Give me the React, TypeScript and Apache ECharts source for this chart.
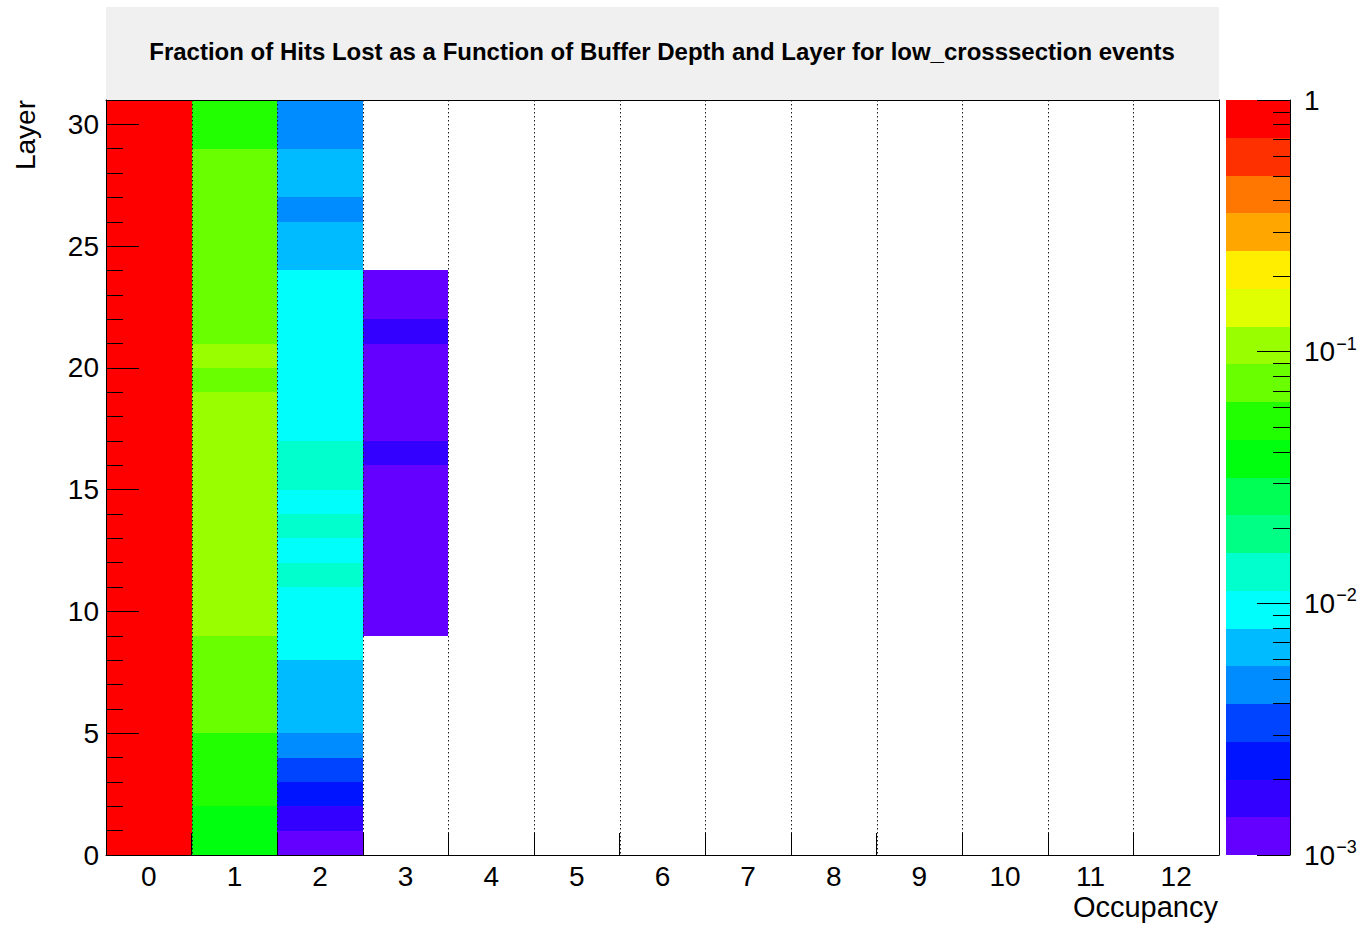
import React, { useEffect, useRef } from "react";
import * as echarts from "echarts";

// Bin labels
const occupancyLabels = ["0", "1", "2", "3", "4", "5", "6", "7", "8", "9", "10", "11", "12"];
const layerLabels = Array.from({ length: 31 }, (_, i) => String(i));

// Fraction of hits lost per layer (index = layer 0..30), one array per buffer occupancy
const lostOcc0 = [
  1, 1, 1, 1, 1, 1, 1, 1, 1, 1, 1, 1, 1, 1, 1, 1,
  1, 1, 1, 1, 1, 1, 1, 1, 1, 1, 1, 1, 1, 1, 1,
];
const lostOcc1 = [
  0.038, 0.04, 0.055, 0.057, 0.06, 0.072, 0.075, 0.078, 0.08, 0.095, 0.1,
  0.102, 0.105, 0.108, 0.11, 0.106, 0.104, 0.101, 0.098, 0.085, 0.094,
  0.082, 0.08, 0.078, 0.076, 0.074, 0.072, 0.07, 0.068, 0.058, 0.055,
];
const lostOcc2 = [
  0.0012, 0.0017, 0.0024, 0.0034, 0.0048, 0.0065, 0.007, 0.0074, 0.0085,
  0.009, 0.0095, 0.0118, 0.0105, 0.0116, 0.0108, 0.0121, 0.0117, 0.0104,
  0.0098, 0.0094, 0.009, 0.0093, 0.0088, 0.0085, 0.0072, 0.0068, 0.0052,
  0.0064, 0.006, 0.005, 0.0047,
];
const lostOcc3 = [
  null, null, null, null, null, null, null, null, null,
  0.00125, 0.0013, 0.0012, 0.00128, 0.00132, 0.00126, 0.0013, 0.0016,
  0.0013, 0.00128, 0.00125, 0.0013, 0.0016, 0.0012, 0.00115,
  null, null, null, null, null, null, null,
];
const lostByOccupancy: (number | null)[][] = [lostOcc0, lostOcc1, lostOcc2, lostOcc3];

// Colour scale: log z range split into equal contours
const zMin = 1e-3;
const zMax = 1;
const nContours = 20;
const paletteColors = [
  "#6300ff", "#3300ff", "#0014ff", "#0044ff", "#008bff",
  "#00bbff", "#00fffc", "#00ffcc", "#00ff85", "#00ff55",
  "#00ff0e", "#22ff00", "#69ff00", "#99ff00", "#e0ff00",
  "#ffee00", "#ffa700", "#ff7700", "#ff3000", "#ff0000",
];
const logMin = Math.log10(zMin);
const logMax = Math.log10(zMax);
const contourLevels = Array.from(
  { length: nContours + 1 },
  (_, j) => Math.pow(10, logMin + (j * (logMax - logMin)) / nContours)
);
const minorTickValues: number[] = [];
for (let e = -3; e < 0; e++) {
  for (let m = 2; m <= 9; m++) minorTickValues.push(m * Math.pow(10, e));
}

const TITLE =
  "Fraction of Hits Lost as a Function of Buffer Depth and Layer for low_crosssection events";
const FONT = '"Liberation Sans", Arial, Helvetica, sans-serif';

function colorFor(v: number): string {
  for (let j = 0; j < nContours; j++) {
    if (v < contourLevels[j + 1]) return paletteColors[j];
  }
  return paletteColors[nContours - 1];
}

export default function App() {
  const ref = useRef<HTMLDivElement>(null);

  useEffect(() => {
    if (!ref.current) return;
    const chart = echarts.init(ref.current, undefined, { renderer: "svg" });

    const cellData: [number, number, number][] = [];
    lostByOccupancy.forEach((col, x) => {
      col.forEach((v, y) => {
        if (v !== null) cellData.push([x, y, v]);
      });
    });

    const bandData = contourLevels.slice(0, -1).map((lo, j) => [0, lo, contourLevels[j + 1]]);
    // interior bin edges of the occupancy axis (right edge of bins 0..11)
    const binEdges = occupancyLabels.slice(0, -1).map((_, i) => [i, 0]);

    const black = { color: "#000", width: 1 };

    chart.setOption({
      animation: false,
      backgroundColor: "#fff",
      textStyle: { fontFamily: FONT },
      grid: [
        { left: 106, top: 100, width: 1113, height: 755, show: false },
        { left: 1226, top: 100, width: 64, height: 755, show: false },
      ],
      xAxis: [
        {
          type: "category",
          gridIndex: 0,
          data: occupancyLabels,
          position: "bottom",
          z: 5,
          axisLine: { show: true, onZero: false, lineStyle: black },
          axisTick: { show: true, inside: true, length: 22, interval: 0, lineStyle: black },
          axisLabel: { interval: 0, fontSize: 28, color: "#000", fontFamily: FONT, margin: 7 },
          splitLine: { show: false },
        },
        {
          type: "category",
          gridIndex: 0,
          data: occupancyLabels,
          position: "top",
          z: 5,
          axisLine: { show: true, onZero: false, lineStyle: black },
          axisTick: { show: false },
          axisLabel: { show: false },
          splitLine: { show: false },
        },
        { type: "value", gridIndex: 1, min: 0, max: 1, show: false },
      ],
      yAxis: [
        {
          type: "category",
          gridIndex: 0,
          data: layerLabels,
          position: "right",
          z: 5,
          axisLine: { show: true, onZero: false, lineStyle: black },
          axisTick: { show: false },
          axisLabel: { show: false },
          splitLine: { show: false },
        },
        {
          type: "value",
          gridIndex: 0,
          min: 0,
          max: 31,
          interval: 1,
          position: "left",
          z: 5,
          axisLine: { show: true, onZero: false, lineStyle: black },
          axisTick: { show: true, inside: true, length: 17, lineStyle: black },
          axisLabel: { show: false },
          splitLine: { show: false },
        },
        {
          type: "value",
          gridIndex: 0,
          min: 0,
          max: 31,
          interval: 5,
          position: "left",
          z: 5,
          axisLine: { show: false, onZero: false },
          axisTick: { show: true, inside: true, length: 33, lineStyle: black },
          axisLabel: {
            fontSize: 28,
            color: "#000",
            fontFamily: FONT,
            margin: 7,
            showMaxLabel: false,
          },
          splitLine: { show: false },
        },
        {
          type: "log",
          gridIndex: 1,
          logBase: 10,
          min: zMin,
          max: zMax,
          position: "right",
          z: 5,
          axisLine: { show: true, onZero: false, lineStyle: black },
          axisTick: { show: true, inside: true, length: 33, lineStyle: black },
          axisLabel: {
            margin: 14,
            color: "#000",
            fontSize: 28,
            fontFamily: FONT,
            formatter: (v: number) => {
              const e = Math.round(Math.log10(v));
              return e === 0 ? "{b|1}" : `{b|10}{s|\u2212${-e}}`;
            },
            rich: {
              b: { fontSize: 28, lineHeight: 34, fontFamily: FONT, color: "#000" },
              s: {
                fontSize: 18,
                fontFamily: FONT,
                color: "#000",
                verticalAlign: "top",
                padding: [0, 0, 0, 1],
              },
            },
          },
          splitLine: { show: false },
        },
      ],
      series: [
        {
          // histogram cells
          type: "custom",
          xAxisIndex: 0,
          yAxisIndex: 0,
          data: cellData,
          encode: { x: 0, y: 1 },
          silent: true,
          z: 1,
          renderItem: (_params: any, api: any) => {
            const c = api.coord([api.value(0), api.value(1)]);
            const s = api.size([1, 1]);
            const x0 = Math.round(c[0] - s[0] / 2);
            const x1 = Math.round(c[0] + s[0] / 2);
            const y0 = Math.round(c[1] - s[1] / 2);
            const y1 = Math.round(c[1] + s[1] / 2);
            return {
              type: "rect",
              shape: { x: x0, y: y0, width: x1 - x0, height: y1 - y0 },
              style: { fill: colorFor(api.value(2)) },
            };
          },
        },
        {
          // dotted vertical grid at bin edges
          type: "custom",
          xAxisIndex: 0,
          yAxisIndex: 0,
          data: binEdges,
          encode: { x: 0, y: 1 },
          silent: true,
          z: 4,
          renderItem: (params: any, api: any) => {
            const c = api.coord([api.value(0), 0]);
            const s = api.size([1, 0]);
            const x = Math.round(c[0] + s[0] / 2) + 0.5;
            const top = params.coordSys.y;
            const bottom = params.coordSys.y + params.coordSys.height;
            return {
              type: "line",
              shape: { x1: x, y1: top, x2: x, y2: bottom },
              style: { stroke: "#1a1a1a", lineWidth: 1, lineDash: [1.5, 2.5] },
            };
          },
        },
        {
          // palette
          type: "custom",
          xAxisIndex: 2,
          yAxisIndex: 3,
          data: bandData,
          encode: { x: 0, y: [1, 2] },
          silent: true,
          z: 1,
          renderItem: (params: any, api: any) => {
            const p0 = api.coord([0, api.value(1)]);
            const p1 = api.coord([1, api.value(2)]);
            const yTop = Math.round(p1[1]);
            const yBot = Math.round(p0[1]);
            return {
              type: "rect",
              shape: { x: Math.round(p0[0]), y: yTop, width: Math.round(p1[0] - p0[0]), height: yBot - yTop },
              style: { fill: paletteColors[params.dataIndex] },
            };
          },
        },
        {
          // palette minor ticks (2..9 per decade)
          type: "custom",
          xAxisIndex: 2,
          yAxisIndex: 3,
          data: minorTickValues.map((v) => [1, v]),
          encode: { x: 0, y: 1 },
          silent: true,
          z: 6,
          renderItem: (_params: any, api: any) => {
            const p = api.coord([1, api.value(1)]);
            const y = Math.round(p[1]) + 0.5;
            return {
              type: "line",
              shape: { x1: p[0], y1: y, x2: p[0] - 17, y2: y },
              style: { stroke: "#000", lineWidth: 1 },
            };
          },
        },
      ],
      graphic: [
        {
          type: "rect",
          shape: { x: 106, y: 7, width: 1113, height: 93 },
          style: { fill: "#f0f0f0" },
          z: 0,
          silent: true,
        },
        {
          type: "text",
          x: 662,
          y: 51,
          z: 1,
          style: {
            text: TITLE,
            fontSize: 24,
            fontWeight: "bold",
            fontFamily: FONT,
            fill: "#000",
            align: "center",
            verticalAlign: "middle",
          },
        },
        {
          type: "text",
          x: 1218,
          y: 907,
          style: {
            text: "Occupancy",
            fontSize: 29,
            fontFamily: FONT,
            fill: "#000",
            align: "right",
            verticalAlign: "middle",
          },
        },
        {
          type: "text",
          x: 25,
          y: 100,
          rotation: Math.PI / 2,
          style: {
            text: "Layer",
            fontSize: 28,
            fontFamily: FONT,
            fill: "#000",
            align: "right",
            verticalAlign: "middle",
          },
        },
      ],
    });

    return () => chart.dispose();
  }, []);

  return (
    <div
      ref={ref}
      style={{ position: "absolute", left: 0, top: 0, width: 1362, height: 927 }}
    />
  );
}
